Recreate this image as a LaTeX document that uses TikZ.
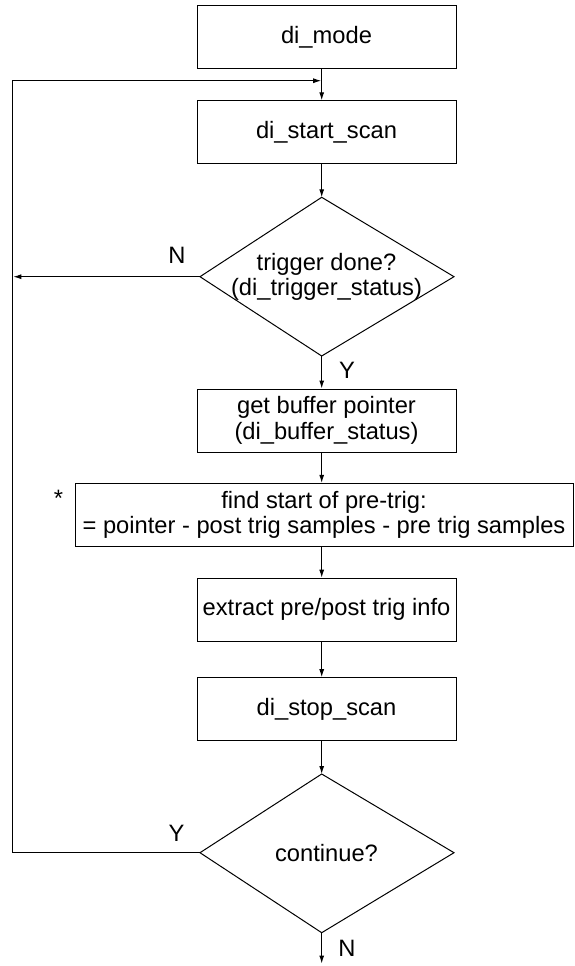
\documentclass[tikz,border=0pt]{standalone}
\usepackage{fontspec}
\setmainfont{Liberation Sans}
\usetikzlibrary{arrows.meta}
\begin{document}
\begin{tikzpicture}[x=1pt,y=-1pt,
  every node/.style={font=\fontsize{23.7}{25.5}\selectfont, inner sep=0pt},
  stepbox/.style={draw, line width=1pt, minimum width=259pt, minimum height=63pt, align=center},
  wide/.style={stepbox, minimum width=498pt},
  flow/.style={line width=1pt, -{Latex[length=8pt,width=5pt]}},
  plain/.style={line width=1pt},
  tag/.style={anchor=base}]
\useasboundingbox (0,0) rectangle (574,966);

% common vertical axis of the connectors
\coordinate (axis) at (321.7,0);

% process boxes
\node[stepbox] (mode)    at (326.5,36.8)  {di\_mode};
\node[stepbox] (start)   at (326.5,132.3) {di\_start\_scan};
\node[stepbox] (buffer)  at (326.5,420.5) {get buffer pointer\\(di\_buffer\_status)};
\node[wide]    (find)    at (324,514.9)   {find start of pre-trig:\\= pointer - post trig samples - pre trig samples};
\node[stepbox] (extract) at (326.5,609.7) {extract pre/post trig info};
\node[stepbox] (stop)    at (326.5,709.2) {di\_stop\_scan};

% decision: trigger done?
\coordinate (trigT) at (321.7,197.3);
\coordinate (trigB) at (321.7,356);
\coordinate (trigL) at (200,276.7);
\coordinate (trigR) at (454,276.7);
\draw[plain] (trigT) -- (trigR) -- (trigB) -- (trigL) -- cycle;
\node[align=center] (trig) at (326.5,276.7) {trigger done?\\(di\_trigger\_status)};

% decision: continue?
\coordinate (contT) at (321.7,774);
\coordinate (contB) at (321.7,932.7);
\coordinate (contL) at (200,852.7);
\coordinate (contR) at (454,852.7);
\draw[plain] (contT) -- (contR) -- (contB) -- (contL) -- cycle;
\node (cont) at (326.5,852.7) {continue?};

% loop rail and ends
\coordinate (rail) at (12.5,0);
\coordinate (join) at (321.2,80.7);
\coordinate (done) at (321.7,963.5);

% main chain
\draw[flow] (mode.south -| axis) -- (start.north -| axis);
\draw[flow] (start.south -| axis) -- (trigT);
\draw[flow] (trigB) -- (buffer.north -| axis);
\draw[flow] (buffer.south -| axis) -- (find.north -| axis);
\draw[flow] (find.south -| axis) -- (extract.north -| axis);
\draw[flow] (extract.south -| axis) -- (stop.north -| axis);
\draw[flow] (stop.south -| axis) -- (contT);
\draw[flow] (contB) -- (done);

% branches
\draw[flow] (trigL) -- ([xshift=0.8pt]trigL -| rail);
\draw[flow] (contL) -- (contL -| rail) -- (join -| rail) -- (join);

% branch labels
\node[tag] (n1) at (177,263) {N};
\node[tag] (y1) at (347,378) {Y};
\node[tag] (y2) at (176.5,841.7) {Y};
\node[tag] (n2) at (347,956) {N};
\node[tag] (star) at (58.6,506) {*};
\end{tikzpicture}
\end{document}
